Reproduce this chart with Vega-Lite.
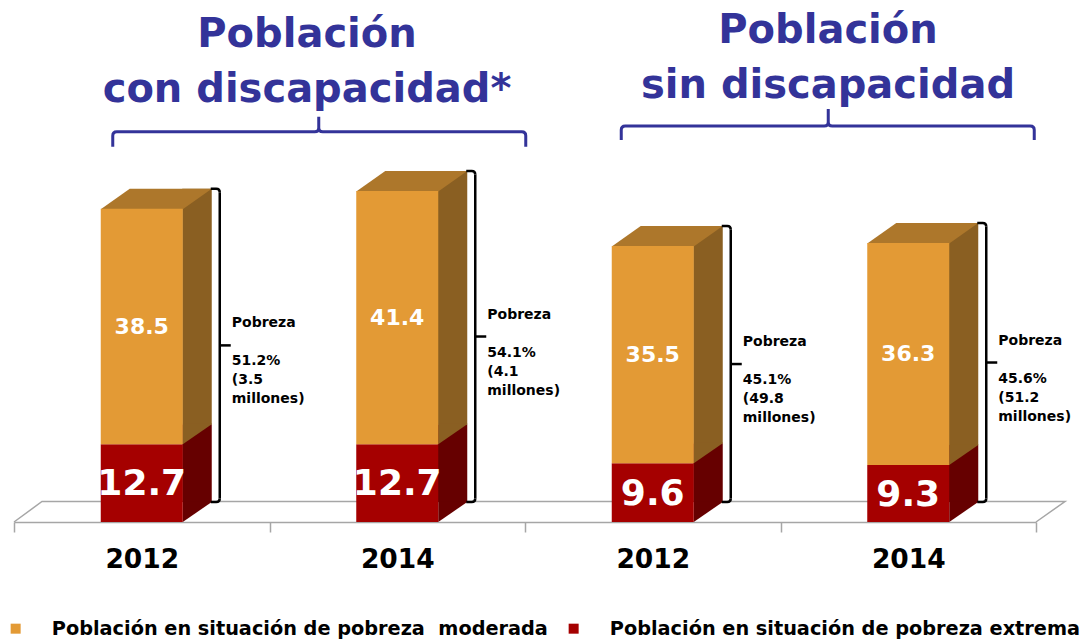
{
  "$schema": "https://vega.github.io/schema/vega-lite/v6.json",
  "width": 1022,
  "height": 520,
  "autosize": "none",
  "padding": {"left": 14, "top": 2, "right": 53, "bottom": 119},
  "background": "white",
  "config": {"view": {"stroke": null}},
  "data": {"values": [
    {"clave": "con-2012", "extrema": 12.7, "moderada": 38.5, "pobreza": 51.2, "etiqueta": "51.2%\n(3.5\nmillones)"},
    {"clave": "con-2014", "extrema": 12.7, "moderada": 41.4, "pobreza": 54.1, "etiqueta": "54.1%\n(4.1\nmillones)"},
    {"clave": "sin-2012", "extrema": 9.6, "moderada": 35.5, "pobreza": 45.1, "etiqueta": "45.1%\n(49.8\nmillones)"},
    {"clave": "sin-2014", "extrema": 9.3, "moderada": 36.3, "pobreza": 45.6, "etiqueta": "45.6%\n(51.2\nmillones)"}
  ]},
  "encoding": {
    "x": {
      "field": "clave", "type": "nominal", "sort": null,
      "scale": {"domain": ["con-2012", "con-2014", "sin-2012", "sin-2014"], "paddingInner": 0, "paddingOuter": 0},
      "axis": {
        "title": null, "labelExpr": "isValid(datum.value) ? substring(datum.value, 4) : ''", "labelAngle": 0,
        "labelFont": "DejaVu Sans", "labelFontWeight": "bold", "labelFontSize": 26.5, "labelColor": "black",
        "labelPadding": 14, "domainColor": "#a6a6a6", "domainWidth": 1.5,
        "tickColor": "#a6a6a6", "tickWidth": 1.5, "tickSize": 10, "tickBand": "extent", "grid": false
      }
    }
  },
  "layer": [
    {
      "data": {"values": [{"clave": "con-2012"}]},
      "mark": {"type": "point", "shape": "M-127.75,0 L-99.75,-20.5 L923.25,-20.5 L894.25,0", "size": 4, "filled": false, "stroke": "#a6a6a6", "strokeWidth": 1.5, "opacity": 1},
      "encoding": {
        "y": {"datum": 0, "type": "quantitative", "scale": {"domain": [0, 85], "nice": false}, "axis": null}
      }
    },
    {
      "mark": {"type": "bar", "width": 29.5, "xOffset": 55.25, "yOffset": -20, "y2Offset": -20, "color": "#660000"},
      "encoding": {
        "y": {"field": "extrema", "type": "quantitative", "scale": {"domain": [0, 85], "nice": false}, "axis": null},
        "y2": {"datum": 0}
      }
    },
    {
      "mark": {"type": "point", "shape": "M41,0 L41,-20.8 L70,-20.8 L70,-20 Z", "size": 4, "filled": true, "color": "#660000", "strokeWidth": 0, "opacity": 1},
      "encoding": {
        "y": {"datum": 0, "type": "quantitative", "scale": {"domain": [0, 85], "nice": false}, "axis": null}
      }
    },
    {
      "mark": {"type": "bar", "width": 29.5, "xOffset": 55.25, "yOffset": -20, "y2Offset": -20, "color": "#8a5f22"},
      "encoding": {
        "y": {"field": "pobreza", "type": "quantitative", "scale": {"domain": [0, 85], "nice": false}, "axis": null},
        "y2": {"field": "extrema"}
      }
    },
    {
      "mark": {"type": "point", "shape": "M41,0 L41,-20.8 L70,-20.8 L70,-20 Z", "size": 4, "filled": true, "color": "#8a5f22", "strokeWidth": 0, "opacity": 1},
      "encoding": {
        "y": {"field": "extrema", "type": "quantitative", "scale": {"domain": [0, 85], "nice": false}, "axis": null}
      }
    },
    {
      "mark": {"type": "point", "shape": "M-41,0.5 L41,0.5 L70,-20 L-12,-20 Z", "size": 4, "filled": true, "color": "#ad772b", "strokeWidth": 0, "opacity": 1},
      "encoding": {
        "y": {"field": "pobreza", "type": "quantitative", "scale": {"domain": [0, 85], "nice": false}, "axis": null}
      }
    },
    {
      "mark": {"type": "bar", "width": 82},
      "encoding": {
        "y": {"field": "extrema", "type": "quantitative", "scale": {"domain": [0, 85], "nice": false}, "axis": null},
        "y2": {"datum": 0},
        "color": {
          "datum": "Población en situación de pobreza extrema", "type": "nominal",
          "scale": {"domain": ["Población en situación de pobreza\u00a0 moderada", "Población en situación de pobreza extrema"], "range": ["#e39a35", "#a50000"]},
          "legend": {
            "orient": "none", "legendX": -8, "legendY": 617, "direction": "horizontal", "title": null,
            "padding": 0, "symbolType": "square", "symbolSize": 100, "symbolStrokeWidth": 0,
            "labelFont": "DejaVu Sans", "labelFontWeight": "bold", "labelFontSize": 19.3, "labelColor": "black",
            "labelOffset": 26.5, "columnPadding": 16, "labelLimit": 0
          }
        }
      }
    },
    {
      "mark": {"type": "bar", "width": 82},
      "encoding": {
        "y": {"field": "pobreza", "type": "quantitative", "scale": {"domain": [0, 85], "nice": false}, "axis": null},
        "y2": {"field": "extrema"},
        "color": {"datum": "Población en situación de pobreza\u00a0 moderada", "type": "nominal"}
      }
    },
    {
      "transform": [{"fold": ["extrema", "pobreza"], "as": ["nivel", "v"]}],
      "mark": {"type": "text", "font": "DejaVu Sans", "fontWeight": "bold", "fontSize": 22, "color": "white", "baseline": "middle", "align": "center"},
      "encoding": {
        "y": {"aggregate": "mean", "field": "v", "type": "quantitative", "scale": {"domain": [0, 85], "nice": false}, "axis": null},
        "text": {"field": "moderada", "type": "quantitative", "format": ".1f"}
      }
    },
    {
      "mark": {"type": "text", "font": "DejaVu Sans", "fontWeight": "bold", "fontSize": 36, "color": "white", "baseline": "middle", "align": "center", "dy": 1},
      "encoding": {
        "y": {"field": "extrema", "type": "quantitative", "scale": {"domain": [0, 170], "nice": false}, "axis": null},
        "text": {"field": "extrema", "type": "quantitative", "format": ".1f"}
      }
    },
    {
      "mark": {"type": "rule", "xOffset": 78, "yOffset": -16.5, "y2Offset": -23.5, "color": "black", "strokeWidth": 2.5},
      "encoding": {
        "y": {"field": "pobreza", "type": "quantitative", "scale": {"domain": [0, 85], "nice": false}, "axis": null},
        "y2": {"datum": 0}
      }
    },
    {
      "mark": {"type": "point", "shape": "M69,-20 L74.5,-20 Q78,-20 78,-16.5", "size": 4, "filled": false, "stroke": "black", "strokeWidth": 2.5, "opacity": 1},
      "encoding": {
        "y": {"field": "pobreza", "type": "quantitative", "scale": {"domain": [0, 85], "nice": false}, "axis": null}
      }
    },
    {
      "mark": {"type": "point", "shape": "M69,-20 L74.5,-20 Q78,-20 78,-23.5", "size": 4, "filled": false, "stroke": "black", "strokeWidth": 2.5, "opacity": 1},
      "encoding": {
        "y": {"datum": 0, "type": "quantitative", "scale": {"domain": [0, 85], "nice": false}, "axis": null}
      }
    },
    {
      "mark": {"type": "point", "shape": "M78,-20 L89,-20", "size": 4, "filled": false, "stroke": "black", "strokeWidth": 2.5, "opacity": 1},
      "encoding": {
        "y": {"field": "pobreza", "type": "quantitative", "scale": {"domain": [0, 170], "nice": false}, "axis": null}
      }
    },
    {
      "mark": {"type": "text", "text": "Pobreza", "align": "left", "baseline": "middle", "font": "DejaVu Sans", "fontSize": 14, "fontWeight": "bold", "color": "black", "dx": 90, "dy": -42},
      "encoding": {
        "y": {"field": "pobreza", "type": "quantitative", "scale": {"domain": [0, 170], "nice": false}, "axis": null}
      }
    },
    {
      "mark": {"type": "text", "align": "left", "baseline": "middle", "lineBreak": "\n", "lineHeight": 19, "font": "DejaVu Sans", "fontSize": 14, "fontWeight": "bold", "color": "black", "dx": 90, "dy": -4},
      "encoding": {
        "y": {"field": "pobreza", "type": "quantitative", "scale": {"domain": [0, 170], "nice": false}, "axis": null},
        "text": {"field": "etiqueta", "type": "nominal"}
      }
    },
    {
      "data": {"values": [{"clave": "con-2012"}]},
      "mark": {"type": "point", "shape": "M-29,15 L-29,4 Q-29,0 -25,0 L173,0 Q177,0 177,-4 L177,-15 M177,-4 Q177,0 181,0 L380,0 Q384,0 384,4 L384,15", "size": 4, "filled": false, "stroke": "#333399", "strokeWidth": 3, "opacity": 1},
      "encoding": {
        "y": {"datum": 63.8, "type": "quantitative", "scale": {"domain": [0, 85], "nice": false}, "axis": null}
      }
    },
    {
      "data": {"values": [{"clave": "sin-2012"}]},
      "mark": {"type": "point", "shape": "M-31.5,14 L-31.5,4 Q-31.5,0 -27.5,0 L171.5,0 Q175.5,0 175.5,-4 L175.5,-17 M175.5,-4 Q175.5,0 179.5,0 L377.5,0 Q381.5,0 381.5,4 L381.5,14", "size": 4, "filled": false, "stroke": "#333399", "strokeWidth": 3, "opacity": 1},
      "encoding": {
        "y": {"datum": 64.73, "type": "quantitative", "scale": {"domain": [0, 85], "nice": false}, "axis": null}
      }
    },
    {
      "data": {"values": [{"clave": "con-2012"}]},
      "mark": {"type": "text", "text": "Población\ncon discapacidad*", "lineBreak": "\n", "lineHeight": 55, "font": "DejaVu Sans", "fontWeight": "bold", "fontSize": 40, "color": "#333399", "align": "center", "baseline": "alphabetic", "dx": 165.25},
      "encoding": {
        "y": {"datum": 77.64, "type": "quantitative", "scale": {"domain": [0, 85], "nice": false}, "axis": null}
      }
    },
    {
      "data": {"values": [{"clave": "sin-2012"}]},
      "mark": {"type": "text", "text": "Población\nsin discapacidad", "lineBreak": "\n", "lineHeight": 55, "font": "DejaVu Sans", "fontWeight": "bold", "fontSize": 40, "color": "#333399", "align": "center", "baseline": "alphabetic", "dx": 175.25},
      "encoding": {
        "y": {"datum": 78.29, "type": "quantitative", "scale": {"domain": [0, 85], "nice": false}, "axis": null}
      }
    }
  ],
  "resolve": {"scale": {"y": "independent"}}
}
